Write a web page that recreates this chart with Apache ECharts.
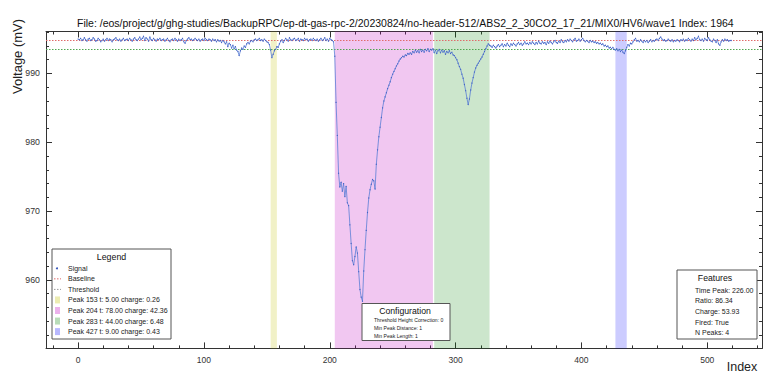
<!DOCTYPE html>
<html><head><meta charset="utf-8">
<script src="https://cdn.jsdelivr.net/npm/echarts@6/dist/echarts.min.js"></script>
<style>html,body{margin:0;padding:0;background:#fff}#c{width:764px;height:374px}</style>
</head><body><div id="c"></div>
<script>
// ---------- data ----------
const titleText = "File: /eos/project/g/ghg-studies/BackupRPC/ep-dt-gas-rpc-2/20230824/no-header-512/ABS2_2_30CO2_17_21/MIX0/HV6/wave1 Index: 1964";
const xName = "Index";
const yName = "Voltage (mV)";
const signal = [
// 0-116
995.0,994.9,995.1,994.8,994.9,995.2,994.9,994.7,995.0,995.1,
994.8,994.9,995.2,995.0,994.7,994.8,995.1,994.9,994.6,994.8,
995.0,994.7,994.9,995.1,994.8,995.0,994.9,994.6,994.9,995.0,
995.2,994.9,994.8,995.0,994.7,994.9,995.1,994.8,994.9,995.0,
994.8,995.1,994.9,994.7,995.0,995.2,994.9,994.8,995.0,995.3,
994.9,995.1,995.4,994.8,995.2,995.0,994.7,995.3,994.9,994.8,
995.1,994.9,994.7,995.0,994.9,995.1,994.8,994.9,995.0,994.7,
994.9,995.1,994.8,994.6,994.9,995.0,994.8,995.1,994.9,994.7,
995.0,994.8,994.9,995.1,994.6,994.4,994.8,995.0,995.2,994.9,
995.0,994.8,994.9,995.1,994.9,994.8,995.0,994.7,994.9,995.0,
994.8,995.1,994.9,994.8,995.0,994.9,994.7,995.0,994.8,994.9,
994.6,994.9,994.7,994.8,994.5,994.8,994.6,
// 117-140
994.3,994.6,993.9,994.4,994.2,993.7,994.1,993.6,993.9,993.4,993.2,992.6,
993.3,993.7,993.5,994.0,993.8,994.3,994.5,994.3,994.7,994.8,994.6,994.9,
// 141-150
995.0,994.8,994.9,995.1,994.8,994.9,994.7,995.0,994.8,994.6,
// 151-162
994.5,994.2,993.4,992.3,992.8,993.3,993.5,993.9,993.8,994.3,994.7,994.9,
// 163-203
994.5,994.8,995.1,994.9,994.7,995.2,994.9,994.8,995.0,995.1,
994.8,994.9,995.1,994.7,995.0,994.9,994.8,995.1,994.9,995.0,
994.7,994.9,995.0,994.8,995.1,994.9,994.8,995.0,994.7,994.9,
995.1,994.8,994.9,995.2,994.8,995.0,994.7,995.1,994.9,994.8,994.6,
// 204-265
992.5,985.8,981.0,975.5,973.5,974.2,972.9,974.0,972.1,973.6,
971.2,970.8,968.0,965.3,962.8,962.2,963.4,964.8,963.9,961.2,
958.6,957.5,956.9,961.3,964.4,967.2,969.8,971.9,973.1,973.9,
974.6,974.4,973.2,976.8,978.9,980.8,982.2,983.6,985.0,986.0,
986.6,987.2,987.8,988.3,988.8,989.4,989.9,990.3,990.7,991.1,
991.4,991.8,992.1,992.3,992.5,992.4,992.7,992.6,992.9,992.8,
993.0,992.8,
// 266-299
993.2,993.0,993.4,993.1,993.3,993.0,993.5,993.2,993.4,993.1,
993.5,993.3,993.6,993.2,993.5,993.4,993.6,993.0,993.4,992.9,
993.3,993.5,993.0,993.4,993.1,993.3,992.8,993.2,993.0,993.3,
992.9,993.1,992.7,992.6,
// 300-327
992.3,992.0,991.5,991.0,990.6,989.9,989.3,988.4,987.5,986.4,
985.5,986.3,987.6,988.6,989.4,990.2,990.8,991.2,991.5,991.8,
992.1,992.4,992.8,993.2,993.6,994.0,994.3,994.1,
// 328-419
994.0,993.8,994.1,993.9,993.7,994.0,994.2,993.9,994.1,994.3,
993.9,994.2,994.0,994.4,994.1,993.9,994.3,994.1,994.4,994.2,
994.0,994.3,994.5,994.2,994.4,994.1,994.3,994.6,994.3,994.4,
994.2,994.5,994.3,994.6,994.4,994.2,994.5,994.3,994.7,994.4,
994.3,994.6,994.4,994.5,994.2,994.6,994.4,994.7,994.5,994.3,
994.6,994.8,994.5,994.4,994.7,994.5,994.9,994.6,994.5,994.8,
994.6,994.9,994.7,995.0,994.8,994.6,994.9,995.1,994.7,994.8,
995.0,994.7,994.9,995.1,994.8,994.6,994.8,994.7,994.5,994.8,
994.6,994.7,994.5,994.6,994.4,994.5,994.3,994.4,994.2,994.3,994.0,994.1,
// 420-440
993.9,994.0,993.7,993.8,993.6,993.8,993.5,993.4,993.6,993.3,
993.5,993.2,993.4,993.1,992.9,993.3,993.8,994.2,994.0,994.4,994.3,
// 441-519
994.6,994.9,995.1,994.7,994.8,994.6,994.9,994.7,994.5,994.8,
994.6,994.8,994.5,994.7,994.9,994.6,994.8,994.7,994.9,995.0,
994.8,995.1,995.3,995.0,994.8,994.9,994.7,994.8,995.0,994.8,
994.7,994.9,994.6,994.8,994.7,994.9,994.8,994.6,994.9,994.8,
995.0,994.7,994.9,994.8,995.1,994.9,994.7,995.0,994.8,995.2,
994.9,995.1,995.4,994.9,994.8,995.0,994.7,995.1,994.9,994.8,
995.2,994.9,994.7,994.6,995.0,994.8,994.5,994.9,994.3,994.1,
994.6,994.9,994.7,995.0,994.8,994.9,994.7,994.8,994.8
];
const baselineValue = 994.85;
const thresholdValue = 993.58;
const peakIndex = [153, 204, 283, 427];
const peakWidth = [5, 78, 44, 9];
const peakCharge = [0.26, 42.36, 6.48, 0.43];
const legendTitle = "Legend";
const lineNames = ["Signal", "Baseline", "Threshold"];
const configTitle = "Configuration";
const configLines = ["Threshold Height Correction: 0", "Min Peak Distance: 1", "Min Peak Length: 1"];
const featuresTitle = "Features";
const featureLines = ["Time Peak: 226.00", "Ratio: 86.34", "Charge: 53.93", "Fired: True", "N Peaks: 4"];
const xRange = [-25.5, 543.5];
const yRange = [950.05, 996.1];

// ---------- style ----------
const FONT = "'Liberation Sans', Arial, Helvetica, sans-serif";
const peakColors = ['rgba(191,191,0,0.22)', 'rgba(191,0,191,0.22)', 'rgba(0,128,0,0.2)', 'rgba(0,0,255,0.2)'];
const peakIconColors = ['rgba(191,191,0,0.3)', 'rgba(191,0,191,0.3)', 'rgba(0,128,0,0.28)', 'rgba(0,0,255,0.28)'];
const signalColor = '#5b7fd6';
const baseColor = '#e06a6a';
const thrColor = '#4fa64f';
const axisColor = '#333';
const peakLabels = peakIndex.map((p, i) => `Peak ${p} t: ${peakWidth[i].toFixed(2)} charge: ${peakCharge[i].toFixed(2)}`);

const chart = echarts.init(document.getElementById('c'), null, {renderer: 'svg', width: 764, height: 374});

function xAx(pos, labels) {
  return {
    type: 'value', position: pos, min: xRange[0], max: xRange[1], minInterval: 100, maxInterval: 100,
    axisLine: {show: true, onZero: false, lineStyle: {color: axisColor, width: 1}},
    axisTick: {show: true, inside: true, length: 6, lineStyle: {color: axisColor}},
    minorTick: {show: true, splitNumber: 5, length: 3, lineStyle: {color: axisColor}},
    axisLabel: {show: labels, showMinLabel: false, showMaxLabel: false, fontSize: 8.5, color: '#333', fontFamily: FONT, margin: 7},
    splitLine: {show: false}, minorSplitLine: {show: false},
    name: labels ? xName : '', nameLocation: 'middle', nameGap: 12.5, nameMoveOverlap: false,
    nameTextStyle: {fontSize: 12.5, lineHeight: 12, color: '#222', fontFamily: FONT, padding: [0, 0, 0, 676], verticalAlign: 'top'}
  };
}
function yAx(pos, labels) {
  return {
    type: 'value', position: pos, min: yRange[0], max: yRange[1], minInterval: 10, maxInterval: 10,
    axisLine: {show: true, onZero: false, lineStyle: {color: axisColor, width: 1}},
    axisTick: {show: true, inside: true, length: 6, lineStyle: {color: axisColor}},
    minorTick: {show: true, splitNumber: 5, length: 3, lineStyle: {color: axisColor}},
    axisLabel: {show: labels, showMinLabel: false, showMaxLabel: false, fontSize: 8.8, color: '#333', fontFamily: FONT, margin: 6},
    splitLine: {show: false}, minorSplitLine: {show: false},
    name: labels ? yName : '', nameLocation: 'middle', nameGap: 22, nameRotate: 90, nameMoveOverlap: false,
    nameTextStyle: {fontSize: 13, color: '#222', fontFamily: FONT, padding: [0, 0, 0, 267]}
  };
}

const series = [
  {
    name: lineNames[0], type: 'line', xAxisIndex: 0, yAxisIndex: 0, z: 5,
    data: signal.map((v, i) => [i, v]),
    showSymbol: true, symbol: 'circle', symbolSize: 1.2,
    itemStyle: {color: '#4060c4'},
    lineStyle: {color: signalColor, width: 0.8},
    emphasis: {disabled: true}, animation: false
  },
  {
    name: lineNames[1], type: 'line', data: [], z: 4,
    markLine: {silent: true, symbol: ['none', 'none'], label: {show: false},
      lineStyle: {color: baseColor, type: [1.5, 1.5], width: 1}, data: [{yAxis: baselineValue}], animation: false}
  },
  {
    name: lineNames[2], type: 'line', data: [], z: 4,
    markLine: {silent: true, symbol: ['none', 'none'], label: {show: false},
      lineStyle: {color: thrColor, type: [1.5, 1.5], width: 1}, data: [{yAxis: thresholdValue}], animation: false}
  }
].concat(peakIndex.map((p, i) => ({
  name: peakLabels[i], type: 'line', data: [], z: 1,
  markArea: {silent: true, itemStyle: {color: peakColors[i]},
    data: [[{xAxis: p}, {xAxis: p + peakWidth[i]}]], animation: false}
})));

// legend / info boxes
const g = [];
const LX = 52, LY = 249, LW = 119, LH = 90;
g.push({type: 'rect', shape: {x: LX, y: LY, width: LW, height: LH}, style: {fill: '#fff', stroke: '#555', lineWidth: 1}, z: 100});
g.push({type: 'text', x: LX + LW / 2, y: LY + 7.5, style: {text: legendTitle, font: `8.8px ${FONT}`, fill: '#111', align: 'center', verticalAlign: 'middle'}, z: 101});
const rowY = i => LY + 19.3 + i * 10.55;
g.push({type: 'circle', shape: {cx: 57, cy: rowY(0), r: 1}, style: {fill: '#2f4fb8'}, z: 101});
g.push({type: 'line', shape: {x1: 54, y1: rowY(1), x2: 61, y2: rowY(1)}, style: {stroke: baseColor, lineWidth: 1, lineDash: [1.5, 1.5]}, z: 101});
g.push({type: 'line', shape: {x1: 54, y1: rowY(2), x2: 61, y2: rowY(2)}, style: {stroke: '#999', lineWidth: 1, lineDash: [1.5, 1.5]}, z: 101});
lineNames.forEach((n, i) => g.push({type: 'text', x: 68, y: rowY(i), style: {text: n, font: `7px ${FONT}`, fill: '#222', verticalAlign: 'middle'}, z: 101}));
peakLabels.forEach((n, i) => {
  g.push({type: 'rect', shape: {x: 55, y: rowY(i + 3) - 3.5, width: 5, height: 7}, style: {fill: peakIconColors[i]}, z: 101});
  g.push({type: 'text', x: 68, y: rowY(i + 3), style: {text: n, font: `7px ${FONT}`, fill: '#222', verticalAlign: 'middle'}, z: 101});
});
// configuration
const CX = 362, CY = 303.5, CW = 88, CH = 37;
g.push({type: 'rect', shape: {x: CX, y: CY, width: CW, height: CH}, style: {fill: '#fff', stroke: '#555', lineWidth: 1}, z: 100});
g.push({type: 'text', x: CX + CW / 2 - 1, y: CY + 7, style: {text: configTitle, font: `8.7px ${FONT}`, fill: '#111', align: 'center', verticalAlign: 'middle'}, z: 101});
configLines.forEach((t, i) => g.push({type: 'text', x: CX + 12, y: CY + 16.5 + i * 8.2, style: {text: t, font: `5.1px ${FONT}`, fill: '#222', verticalAlign: 'middle'}, z: 101}));
// features
const FX = 677, FY = 270, FW = 80, FH = 69;
g.push({type: 'rect', shape: {x: FX, y: FY, width: FW, height: FH}, style: {fill: '#fff', stroke: '#555', lineWidth: 1}, z: 100});
g.push({type: 'text', x: FX + FW / 2 - 2, y: FY + 8.3, style: {text: featuresTitle, font: `8.7px ${FONT}`, fill: '#111', align: 'center', verticalAlign: 'middle'}, z: 101});
featureLines.forEach((t, i) => g.push({type: 'text', x: FX + 18, y: FY + 20 + i * 10.7, style: {text: t, font: `7px ${FONT}`, fill: '#222', verticalAlign: 'middle'}, z: 101}));

chart.setOption({
  animation: false,
  backgroundColor: '#fff',
  title: {text: titleText, left: 72, top: 12, textStyle: {fontSize: 10.5, fontWeight: 'normal', color: '#111', fontFamily: FONT}},
  grid: {left: 46, right: 2, top: 31.5, bottom: 25.6, containLabel: false, outerBoundsMode: 'none'},
  xAxis: [xAx('bottom', true), xAx('top', false)],
  yAxis: [yAx('left', true), yAx('right', false)],
  series: series,
  graphic: g
});
</script></body></html>
